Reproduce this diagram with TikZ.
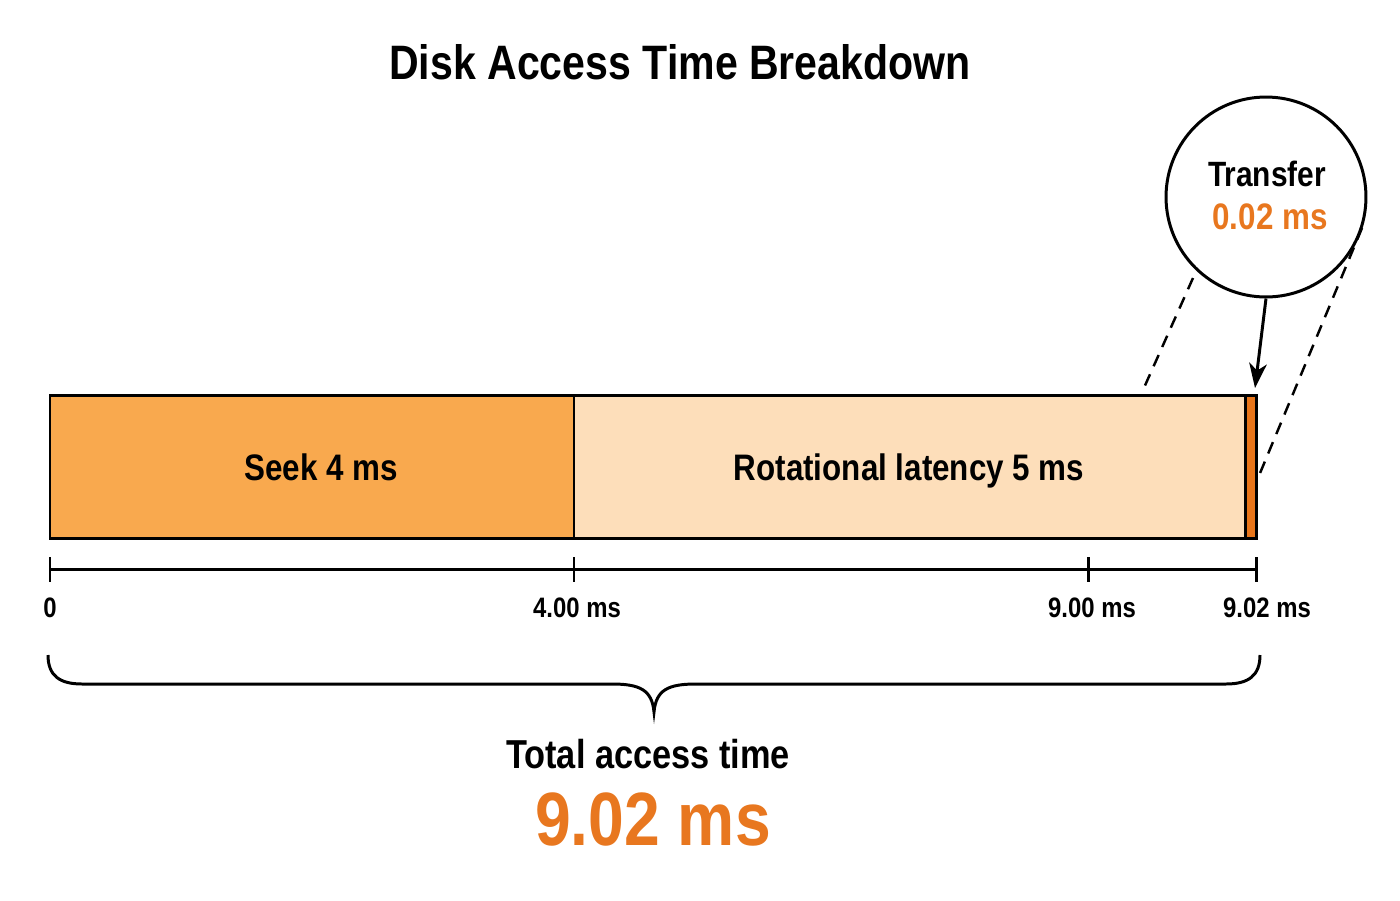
\documentclass[tikz,border=0pt]{standalone}
\usepackage{fontspec}
\setmainfont{Liberation Sans}[FakeStretch=0.85]
\usetikzlibrary{calc}
\usetikzlibrary{arrows.meta}

\definecolor{seekfill}{HTML}{F9A94E}
\definecolor{rotfill}{HTML}{FDDEBA}
\definecolor{transfill}{HTML}{E8751A}
\definecolor{oranye}{HTML}{E8771F}

\tikzset{
  teks/.style={anchor=base, font=\bfseries\fontsize{21}{25}\selectfont},
  tiklabel/.style={anchor=base, font=\bfseries\fontsize{16}{19}\selectfont},
  garisputus/.style={dashed, dash pattern=on 7pt off 5pt, line width=1.4pt}
}

\begin{document}
\begin{tikzpicture}[x=0.02cm,y=-0.02cm,line width=1.7pt]
    \useasboundingbox (0,0) rectangle (1400,900);
    % judul
    \node[anchor=base, font=\bfseries\fontsize{27.5}{32}\selectfont] (judul) at (680,79) {Disk Access Time Breakdown};

    % titik-titik batang
    \coordinate (S0) at (50,395);
    \coordinate (S1) at (574,538);
    \coordinate (R1) at (1245,538);
    \coordinate (T1) at (1256,538);
    \coordinate (R0) at (S1 |- S0);
    \coordinate (T0) at (R1 |- S0);

    % pembuatan batang
    \draw[fill=seekfill] (S0) rectangle (S1);
    \draw[fill=rotfill] (R0) rectangle (R1);
    \draw[fill=transfill] (T0) rectangle (T1);
    \node[teks] (seek) at (321,480) {Seek 4 ms};
    \node[teks] (rot) at (909,480) {Rotational latency 5 ms};

    % sumbu waktu
    \coordinate (A0) at (50,569);
    \coordinate (A1) at (574,569);
    \coordinate (A2) at (1088,569);
    \coordinate (A3) at (1256,569);
    \draw (A0) -- (A3);
    \foreach \t in {A0,A1,A2,A3}
        \draw ($(\t)+(0,-12)$) -- ($(\t)+(0,13)$);
    \node[tiklabel] (L0) at (50,617) {0};
    \node[tiklabel] (L1) at (577,617) {4.00 ms};
    \node[tiklabel] (L2) at (1092,617) {9.00 ms};
    \node[tiklabel] (L3) at (1267,617) {9.02 ms};

    % kurung kurawal
    \coordinate (K0) at (48,655);
    \coordinate (K1) at (1260,655);
    \coordinate (KP) at (654,712);
    \draw (K0) .. controls (48,676) and (60,684) .. (82,684) -- (612,684)
          .. controls (640,684) and (652,690) .. (KP)
          .. controls (656,690) and (668,684) .. (696,684) -- (1226,684)
          .. controls (1248,684) and (1260,676) .. (K1);

    % total waktu
    \node[anchor=base, font=\bfseries\fontsize{23}{27}\selectfont] (total) at (648,768) {Total access time};
    \node[anchor=base, font=\bfseries\fontsize{43}{50}\selectfont, text=oranye] (nilai) at (653,845) {9.02 ms};

    % lingkaran perbesaran
    \node[circle, draw, minimum size=4cm, inner sep=0pt] (zoom) at (1266,197) {};
    \node[anchor=base, font=\bfseries\fontsize{20}{24}\selectfont] (tr) at (1267,186) {Transfer};
    \node[anchor=base, font=\bfseries\fontsize{21}{25}\selectfont, text=oranye] (trv) at (1270,229) {0.02 ms};
    \coordinate (ujung) at (1255,388);
    \draw[-{Stealth[length=14pt,width=10pt,inset=4pt]}] (zoom.south) -- (ujung);

    % garis putus-putus
    \coordinate (D0) at (1193,278);
    \coordinate (D1) at (1143,390);
    \coordinate (D2) at (1362,228);
    \coordinate (D3) at (1258,478);
    \draw[garisputus] (D0) -- (D1);
    \draw[garisputus] (D2) -- (D3);
\end{tikzpicture}
\end{document}
